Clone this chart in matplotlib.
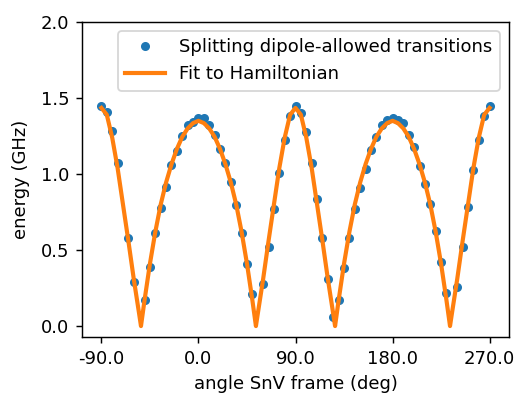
import numpy as np
import matplotlib
matplotlib.use("Agg")
import matplotlib.pyplot as plt

# measured splitting (deg, GHz)
angle = [-90, -85, -80, -75, -65, -60, -50, -45, -40, -35, -30, -25, -20, -15,
         -10, -5, 0, 5, 10, 15, 20, 25, 30, 35, 40, 45, 50, 60, 65, 70, 75,
         80, 85, 90, 95, 100, 105, 110, 115, 120, 125, 130, 135, 140, 145,
         150, 155, 160, 165, 170, 175, 180, 185, 190, 195, 200, 205, 210,
         215, 220, 225, 230, 240, 245, 250, 255, 260, 265, 270]
splitting = [1.449, 1.410, 1.283, 1.072, 0.577, 0.287, 0.171, 0.390, 0.610,
             0.774, 0.916, 1.059, 1.151, 1.250, 1.322, 1.344, 1.366, 1.366,
             1.322, 1.257, 1.162, 1.070, 0.949, 0.796, 0.610, 0.408, 0.210,
             0.274, 0.522, 0.770, 1.009, 1.224, 1.382, 1.449, 1.403, 1.278,
             1.074, 0.833, 0.581, 0.309, 0.057, 0.171, 0.383, 0.577, 0.770,
             0.906, 1.033, 1.160, 1.245, 1.322, 1.355, 1.366, 1.355, 1.333,
             1.257, 1.175, 1.053, 0.932, 0.800, 0.625, 0.420, 0.215, 0.255,
             0.522, 0.781, 1.026, 1.224, 1.383, 1.449]

# fit curve
fit_angle = [-90, -85, -80, -75, -70, -65, -60, -55, -53.3, -50, -45, -40,
             -35, -30, -25, -20, -15, -10, -5, 0, 5, 10, 15, 20, 25, 30, 35,
             40, 45, 50, 53.3, 55, 60, 65, 70, 75, 80, 85, 90, 95, 100, 105,
             110, 115, 120, 125, 126.7, 130, 135, 140, 145, 150, 155, 160,
             165, 170, 175, 180, 185, 190, 195, 200, 205, 210, 215, 220, 225,
             230, 233.3, 235, 240, 245, 250, 255, 260, 265, 270]
fit_energy = [1.435, 1.39, 1.24, 1.04, 0.80, 0.56, 0.31, 0.08, 0.0, 0.17,
              0.41, 0.62, 0.80, 0.945, 1.065, 1.165, 1.245, 1.30, 1.335,
              1.35, 1.335, 1.30, 1.245, 1.165, 1.065, 0.945, 0.80, 0.62,
              0.41, 0.17, 0.0, 0.08, 0.31, 0.56, 0.80, 1.04, 1.24, 1.39,
              1.435, 1.39, 1.24, 1.04, 0.80, 0.56, 0.31, 0.08, 0.0, 0.17,
              0.41, 0.62, 0.80, 0.945, 1.065, 1.165, 1.245, 1.30, 1.335,
              1.35, 1.335, 1.30, 1.245, 1.165, 1.065, 0.945, 0.80, 0.62,
              0.41, 0.17, 0.0, 0.08, 0.31, 0.56, 0.80, 1.04, 1.24, 1.39,
              1.435]

xticks = [-90, 0, 90, 180, 270]

dpi = 130
fig = plt.figure(figsize=(518 / dpi, 396 / dpi), dpi=dpi)
ax = fig.add_axes([82 / 518, 59 / 396, 427 / 518, 315 / 396])

ax.plot(angle, splitting, '.', color='tab:blue', ms=8,
        label='Splitting dipole-allowed transitions')
ax.plot(fit_angle, fit_energy, '-', color='tab:orange', lw=2.3,
        label='Fit to Hamiltonian')

ax.set_xticks(xticks)
ax.set_xticklabels(['%.1f' % t for t in xticks])
ax.set_yticks([0, 0.5, 1.0, 1.5, 2.0])
ax.set_xlim(-108, 288)
ax.set_ylim(-0.072, 2.0)
ax.set_xlabel('angle SnV frame (deg)', labelpad=4)
ax.set_ylabel('energy (GHz)', labelpad=6)
ax.legend(loc='upper right', handlelength=2.2)

fig.savefig('out.png', dpi=dpi)
